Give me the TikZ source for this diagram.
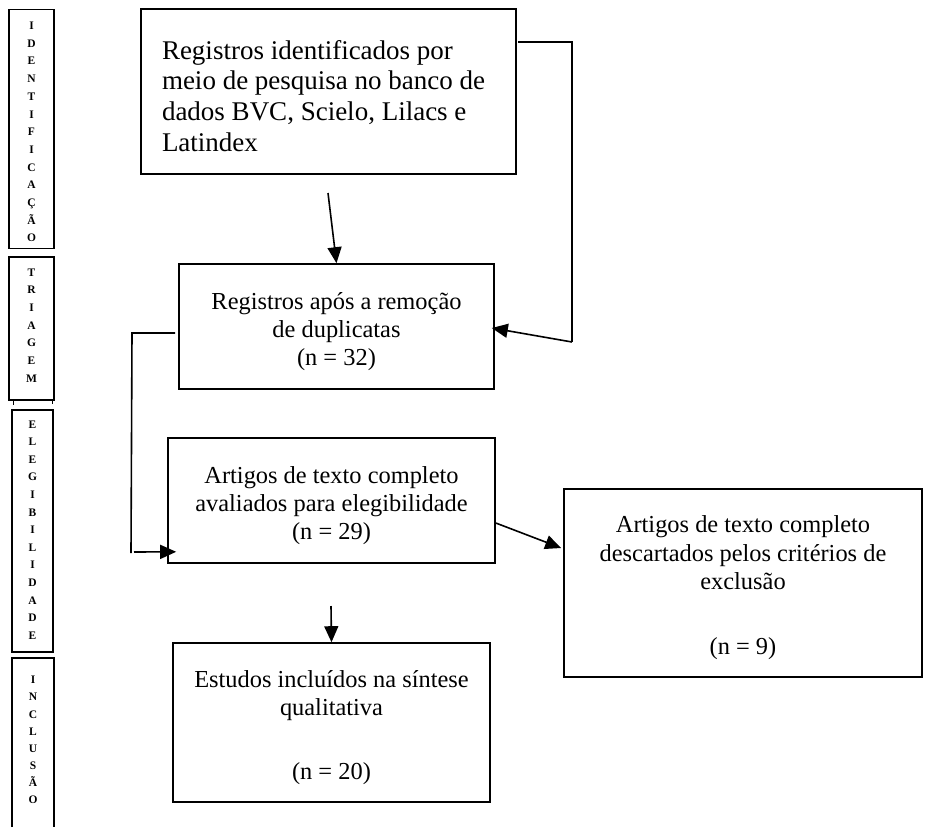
\documentclass[tikz,border=0pt]{standalone}
\usepackage{fontspec}
\setmainfont{Liberation Serif}
\usetikzlibrary{arrows.meta}
\newcommand{\fstrut}{\rule{0pt}{27pt}}
\begin{document}
\begin{tikzpicture}[x=1pt,y=-1pt,
  box/.style={draw, line width=1.6pt, inner sep=0pt, align=center, font=\fontsize{24.4}{28}\selectfont},
  side/.style={inner sep=0pt, align=center},
  sidebox/.style={draw, line width=1.3pt, inner sep=0pt},
  lne/.style={line width=1.6pt},
  arr/.style={line width=1.6pt, -{Triangle[length=16pt,width=14pt]}}]
\fill[white] (0,0) rectangle (926,827);
\useasboundingbox (0,0) rectangle (926,827);

% side bars
\node[sidebox, minimum width=45pt, minimum height=239pt] (s1) at (31.5,129) {};
\node[side, font=\fontsize{11.5}{17.7}\selectfont\bfseries] (t1) at ([shift={(0,3)}]s1.center) {I\\D\\E\\N\\T\\I\\F\\I\\C\\A\\Ç\\Ã\\O};
\node[sidebox, minimum width=45pt, minimum height=143pt] (s2) at (31.5,328.5) {};
\node[side, font=\fontsize{11.5}{17.7}\selectfont\bfseries] (t2) at ([shift={(0,-3)}]s2.center) {T\\R\\I\\A\\G\\E\\M};
\draw[line width=1pt] (13,401) -- (13,405);
\draw[line width=1pt] (52,401) -- (52,404);
\node[sidebox, minimum width=41pt, minimum height=242pt] (s3) at (32.5,531) {};
\node[side, font=\fontsize{11.5}{17.6}\selectfont\bfseries] (t3) at ([shift={(0,-1)}]s3.center) {E\\L\\E\\G\\I\\B\\I\\L\\I\\D\\A\\D\\E};
\draw[line width=1.3pt] (12,827) -- (12,658) -- (54,658) -- (54,827);
\node[side, font=\fontsize{11.5}{17.1}\selectfont\bfseries] (t4) at (33,740) {I\\N\\C\\L\\U\\S\\Ã\\O};

% boxes
\node[box, minimum width=375pt, minimum height=165pt, text width=333pt, align=flush left,
      font=\fontsize{27}{30.8}\selectfont] (b1) at (328.5,91.5)
  {\mbox{\rule{0pt}{28pt}Registros identificados por}\\\mbox{meio de pesquisa no banco de}\\\mbox{dados BVC, Scielo, Lilacs e}\\\mbox{Latindex}};
\node[box, minimum width=315pt, minimum height=125pt] (b2) at (336.5,326.5)
  {\fstrut Registros após a remoção\\de duplicatas\\(n = 32)};
\node[box, minimum width=327pt, minimum height=125pt] (b3) at (331.5,500.5)
  {\fstrut Artigos de texto completo\\avaliados para elegibilidade\\(n = 29)};
\node[box, minimum width=358pt, minimum height=188pt] (b4) at (743,583)
  {\fstrut Artigos de texto completo\\[1pt]descartados pelos critérios de\\exclusão\\[37pt](n = 9)};
\node[box, minimum width=317pt, minimum height=159pt] (b5) at (331.5,722.5)
  {\fstrut Estudos incluídos na síntese\\qualitativa\\[36pt](n = 20)};

% connectors
\coordinate (p1) at (328,193);
\draw[arr] (p1) -- (b2.north);

\coordinate (r1) at (518,42);
\coordinate (r2) at (572,42);
\coordinate (r3) at (572,342);
\draw[lne] (r1) -- (r2) -- (r3);
\draw[arr] (r3) -- ([shift={(-3,1.5)}]b2.east);

\coordinate (l1) at (175,333);
\coordinate (l2) at (132,333);
\coordinate (l3) at (131,553);
\draw[lne] (l1) -- (l2) -- (l3);
\coordinate (l4) at (134,552);
\draw[arr] (l4) -- ([shift={(9,-12)}]b3.south west);

\draw[arr] ([shift={(0,22.5)}]b3.east) -- ([shift={(-2,-35)}]b4.west);

\coordinate (p2) at (331,606);
\draw[arr] (p2) -- (b5.north);
\end{tikzpicture}
\end{document}
